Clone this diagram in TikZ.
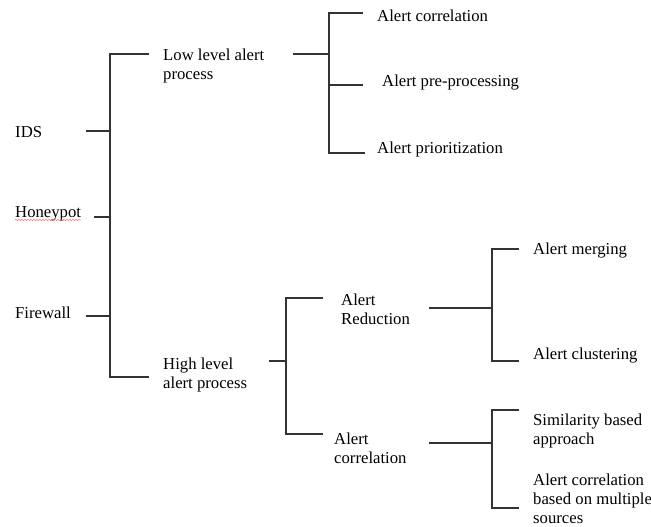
\documentclass[tikz,border=0pt]{standalone}
\usepackage{fontspec}
\setmainfont{Liberation Serif}
\usetikzlibrary{decorations.pathmorphing}

\tikzset{
  lbl/.style={anchor=base west, inner sep=0pt, align=left,
    font=\fontsize{16.7}{19}\selectfont},
  link/.style={line width=1.1pt, draw=black!80},
  typo/.style={red!60, line width=0.5pt, decorate,
    decoration={snake, amplitude=0.6pt, segment length=3pt}}
}

\begin{document}
\begin{tikzpicture}[x=1pt, y=-1pt]
    \useasboundingbox (0,0) rectangle (651,527);

    % sources
    \node[lbl] (ids) at (15,137) {IDS};
    \node[lbl] (honeypot) at (15,217) {Honeypot};
    \node[lbl] (firewall) at (15,318) {Firewall};
    \draw[typo] ([yshift=-3pt]honeypot.base west) -- ([yshift=-3pt]honeypot.base east);

    % level 1 (base = last line)
    \node[lbl] (low) at (163,80) {Low level alert\\process};
    \node[lbl] (high) at (163,388) {High level\\alert process};

    % level 2
    \node[lbl] (corrA) at (377,22) {Alert correlation};
    \node[lbl] (prep) at (382,86) {Alert pre-processing};
    \node[lbl] (prio) at (377,153) {Alert prioritization};
    \node[lbl] (reduct) at (341,324) {Alert\\Reduction};
    \node[lbl] (corrB) at (334,463) {Alert\\correlation};

    % level 3
    \node[lbl] (merge) at (533,254) {Alert merging};
    \node[lbl] (clust) at (533,359) {Alert clustering};
    \node[lbl] (simil) at (533,444) {Similarity based\\approach};
    \node[lbl] (multi) at (533,523) {Alert correlation\\based on multiple\\sources};

    % bracket end points
    \coordinate (spA) at (110,0);
    \coordinate (spB) at (329,0);
    \coordinate (spC) at (286,0);
    \coordinate (spD) at (492,0);
    \coordinate (idsOut) at (86,131);
    \coordinate (honeyOut) at (94,217);
    \coordinate (fwOut) at (86,316);
    \coordinate (lowIn) at (149,54);
    \coordinate (highIn) at (149,377);
    \coordinate (lowOut) at (293,54);
    \coordinate (highOut) at (269,361);
    \coordinate (corrAIn) at (363,13);
    \coordinate (prepIn) at (363,85);
    \coordinate (prioIn) at (365,153);
    \coordinate (reductIn) at (323,298);
    \coordinate (corrBIn) at (323,434);
    \coordinate (reductOut) at (429,308);
    \coordinate (corrBOut) at (429,443);
    \coordinate (mergeIn) at (519,249);
    \coordinate (clustIn) at (519,361);
    \coordinate (similIn) at (519,410);
    \coordinate (multiIn) at (519,508);

    % brackets
    \draw[link] (lowIn) -- (lowIn -| spA) -- (highIn -| spA) -- (highIn);
    \foreach \c in {idsOut,honeyOut,fwOut}
        \draw[link] (\c) -- (\c -| spA);

    \draw[link] (corrAIn) -- (corrAIn -| spB) -- (prioIn -| spB) -- (prioIn);
    \foreach \c in {prepIn,lowOut}
        \draw[link] (\c) -- (\c -| spB);

    \draw[link] (reductIn) -- (reductIn -| spC) -- (corrBIn -| spC) -- (corrBIn);
    \draw[link] (highOut) -- (highOut -| spC);

    \draw[link] (mergeIn) -- (mergeIn -| spD) -- (clustIn -| spD) -- (clustIn);
    \draw[link] (reductOut) -- (reductOut -| spD);
    \draw[link] (similIn) -- (similIn -| spD) -- (multiIn -| spD) -- (multiIn);
    \draw[link] (corrBOut) -- (corrBOut -| spD);

\end{tikzpicture}
\end{document}
